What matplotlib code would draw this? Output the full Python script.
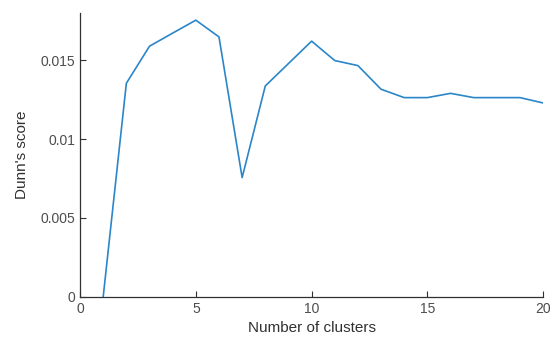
import numpy as np
import matplotlib
matplotlib.use('Agg')
import matplotlib.pyplot as plt

plt.rcParams['font.family'] = ['Liberation Sans', 'DejaVu Sans']

n_clusters = list(range(1, 21))
dunn = [0.0, 0.01354, 0.01589, 0.01672, 0.01754, 0.01648, 0.00756, 0.01337,
        0.01479, 0.01621, 0.01498, 0.01466, 0.01316, 0.01263, 0.01263, 0.0129,
        0.01263, 0.01263, 0.01263, 0.01229]
xticks = [0, 5, 10, 15, 20]
yticks = [0, 0.005, 0.01, 0.015]
ytick_labels = ['0', '0.005', '0.01', '0.015']

fig = plt.figure(figsize=(5.52, 3.4), dpi=100)
ax = fig.add_axes([0.145, 0.127, 0.839, 0.835])
ax.plot(n_clusters, dunn, color='#2a86c8', lw=1.2)
ax.set_xlim(0, 20)
ax.set_ylim(0, 0.018)
ax.set_xticks(xticks)
ax.set_yticks(yticks)
ax.set_yticklabels(ytick_labels)
ax.spines['top'].set_visible(False)
ax.spines['right'].set_visible(False)
for s in ['left', 'bottom']:
    ax.spines[s].set_color('#303030')
    ax.spines[s].set_linewidth(0.9)
ax.tick_params(direction='in', length=4, width=0.8, colors='#303030',
               labelsize=10, labelcolor='#4d4d4d')
ax.set_xlabel('Number of clusters', fontsize=11, color='#303030', labelpad=4)
ax.set_ylabel("Dunn's score", fontsize=11, color='#303030', labelpad=8)
fig.savefig('out.png', dpi=100)
